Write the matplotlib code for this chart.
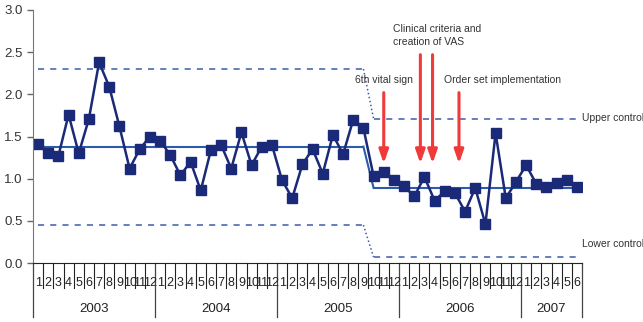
import matplotlib
matplotlib.use("Agg")
import matplotlib.pyplot as plt
import numpy as np

plt.rcParams['font.family'] = ['Liberation Sans', 'DejaVu Sans']

# monthly values, Jan 2003 .. Jun 2007
values = [1.41, 1.30, 1.27, 1.76, 1.30, 1.71, 2.38, 2.09, 1.62, 1.12, 1.35, 1.50,
          1.45, 1.28, 1.04, 1.20, 0.86, 1.34, 1.40, 1.12, 1.55, 1.16, 1.38, 1.40,
          0.98, 0.77, 1.17, 1.35, 1.06, 1.52, 1.29, 1.70, 1.60, 1.03, 1.08, 0.98,
          0.91, 0.79, 1.02, 0.74, 0.85, 0.83, 0.61, 0.89, 0.46, 1.54, 0.77, 0.96,
          1.16, 0.94, 0.90, 0.95, 0.98, 0.90]
years = ['2003', '2004', '2005', '2006', '2007']
months_per_year = [12, 12, 12, 12, 6]

# control limits before / after the change (break after index 32)
break_idx = 32
center = [1.38, 0.89]
ucl = [2.30, 1.71]
lcl = [0.45, 0.07]

# interventions
arrow_x = [34.0, 37.6, 38.8, 41.4]
arrow_top = [2.02, 2.47, 2.47, 2.02]
arrow_tip = 1.18

n = len(values)
x = np.arange(n)

fig = plt.figure(figsize=(6.43, 3.22), dpi=100)
ax = fig.add_axes([33 / 643, (322 - 263) / 322, (582 - 33) / 643, 253 / 322])

navy = '#1b2a78'
lineblue = '#2d5bab'
dashblue = '#3a5ca8'
red = '#f03a3a'

ax.plot([0, break_idx], [center[0]] * 2, color=lineblue, lw=1.5)
ax.plot([break_idx, break_idx + 1], center, color=lineblue, lw=1.5)
ax.plot([break_idx + 1, n - 1], [center[1]] * 2, color=lineblue, lw=1.5)
for lim in (ucl, lcl):
    ax.plot([0, break_idx], [lim[0]] * 2, color=dashblue, lw=1.1, dashes=(4, 4))
    ax.plot([break_idx, break_idx + 1], lim, color=dashblue, lw=1.1, ls=':')
    ax.plot([break_idx + 1, n - 1], [lim[1]] * 2, color=dashblue, lw=1.1, dashes=(4, 4))

ax.plot(x, values, color=navy, lw=1.8, marker='s', ms=6.5, mfc=navy, mec=navy)

for xa, top in zip(arrow_x, arrow_top):
    ax.annotate('', xy=(xa, arrow_tip), xytext=(xa, top),
                arrowprops=dict(arrowstyle='-|>,head_width=0.28,head_length=0.8',
                                color=red, lw=2.2, shrinkA=0, shrinkB=0))

tfont = dict(fontsize=7.5, color='#333333', family=['Liberation Sans Narrow', 'Liberation Sans'])
ax.text(31.2, 2.17, '6th vital sign', ha='left', va='center', **tfont)
ax.text(34.9, 2.70, 'Clinical criteria and\ncreation of VAS', ha='left', va='center',
        linespacing=1.35, **tfont)
ax.text(39.9, 2.17, 'Order set implementation', ha='left', va='center', **tfont)
ax.text(53.5, 1.72, 'Upper control limit', ha='left', va='center', clip_on=False, **tfont)
ax.text(53.5, 0.23, 'Lower control limit', ha='left', va='center', clip_on=False, **tfont)

ax.set_xlim(-0.5, n - 0.5)
ax.set_ylim(0, 3.0)
ticks = np.arange(0, 3.01, 0.5)
ax.set_yticks(ticks)
ax.set_yticklabels([f'{v:.1f}' for v in ticks], fontsize=9.5, color='#333333')
ax.set_xticks([])
ax.tick_params(axis='y', length=4, color='#666666', width=1)
for s in ('top', 'right'):
    ax.spines[s].set_visible(False)
ax.spines['left'].set_color('#777777')
ax.spines['bottom'].set_color('#222222')

# month / year category axis
trans = ax.get_xaxis_transform()
month_y = -20 / 253
year_y = -46 / 253
short = -25 / 253
long_ = -54 / 253
start = 0
bounds = [-0.5]
for yr, cnt in zip(years, months_per_year):
    for m in range(cnt):
        ax.text(start + m, month_y, str(m + 1), transform=trans, ha='center', va='center',
                fontsize=9, color='#222222', clip_on=False)
        if m < cnt - 1:
            ax.plot([start + m + 0.5] * 2, [0, short], transform=trans, color='#222222',
                    lw=0.8, clip_on=False)
    ax.text(start + (cnt - 1) / 2, year_y, yr, transform=trans, ha='center', va='center',
            fontsize=9.5, color='#222222', clip_on=False)
    start += cnt
    bounds.append(start - 0.5)
for b in bounds:
    ax.plot([b, b], [0, long_], transform=trans, color='#444444', lw=0.9, clip_on=False)

fig.savefig('out.png', dpi=100)
